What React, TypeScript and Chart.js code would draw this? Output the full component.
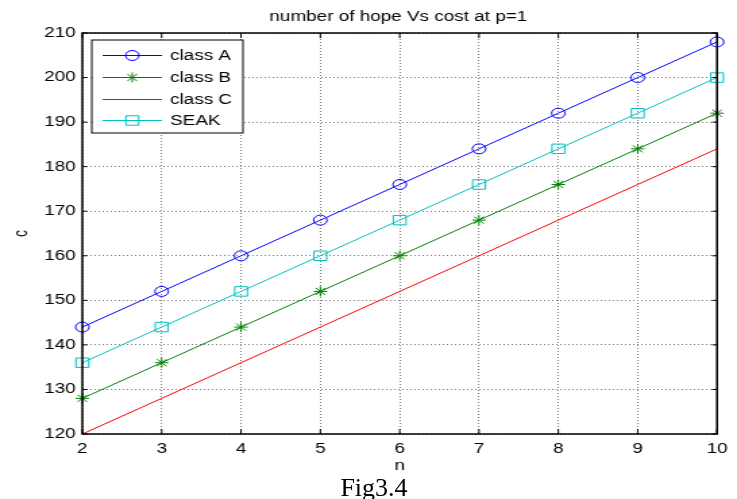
import React, { useEffect, useRef } from 'react';
import { Chart, registerables } from 'chart.js';

Chart.register(...registerables);

// ---- data ----
const nValues = [2, 3, 4, 5, 6, 7, 8, 9, 10];
const classA = [144, 152, 160, 168, 176, 184, 192, 200, 208];
const classB = [128, 136, 144, 152, 160, 168, 176, 184, 192];
const classC = [120, 128, 136, 144, 152, 160, 168, 176, 184];
const seak = [136, 144, 152, 160, 168, 176, 184, 192, 200];
const seriesNames = ['class A', 'class B', 'class C', 'SEAK'];
const chartTitle = 'number of hope Vs cost at p=1';
const xTitle = 'n';
const yTitle = 'c';
const caption = 'Fig3.4';
const xMin = 2;
const xMax = 10;
const yMin = 120;
const yMax = 210;
const yStep = 10;

// ---- presentation ----
const FONT = '"Liberation Sans", Arial, Helvetica, sans-serif';
const CW = 546; // internal canvas width (the figure is stretched horizontally)
const CH = 499;
const SX = 737 / CW;
const COLORS = ['#0000ff', '#008000', '#ff0000', '#00bfbf'];
const STYLES = ['circle', 'star', 'none', 'rect'];
const RADII = [5, 5, 0, 6.7];

function drawMarker(ctx: CanvasRenderingContext2D, style: string, x: number, y: number, r: number, color: string) {
  if (!r || style === 'none') return;
  ctx.save();
  ctx.strokeStyle = color;
  ctx.lineWidth = 1;
  ctx.beginPath();
  if (style === 'circle') {
    ctx.arc(x, y, r, 0, Math.PI * 2);
  } else if (style === 'rect') {
    const s = r * Math.SQRT1_2;
    ctx.rect(x - s, y - s, 2 * s, 2 * s);
  } else if (style === 'star') {
    const d = r * Math.SQRT1_2;
    ctx.moveTo(x - r, y); ctx.lineTo(x + r, y);
    ctx.moveTo(x, y - r); ctx.lineTo(x, y + r);
    ctx.moveTo(x - d, y - d); ctx.lineTo(x + d, y + d);
    ctx.moveTo(x - d, y + d); ctx.lineTo(x + d, y - d);
  }
  ctx.stroke();
  ctx.restore();
}

const framePlugin = {
  id: 'matlabFrame',
  afterDatasetsDraw(chart: any) {
    const { ctx, chartArea: a, scales } = chart;
    ctx.save();
    // inward tick marks
    ctx.strokeStyle = '#000';
    ctx.lineWidth = 1;
    ctx.beginPath();
    for (const t of scales.x.ticks) {
      const px = scales.x.getPixelForValue(t.value);
      ctx.moveTo(px, a.bottom); ctx.lineTo(px, a.bottom - 5);
      ctx.moveTo(px, a.top); ctx.lineTo(px, a.top + 5);
    }
    for (const t of scales.y.ticks) {
      const py = scales.y.getPixelForValue(t.value);
      ctx.moveTo(a.left, py); ctx.lineTo(a.left + 5 / SX, py);
      ctx.moveTo(a.right, py); ctx.lineTo(a.right - 5 / SX, py);
    }
    ctx.stroke();
    // axes box
    ctx.lineWidth = 1.5;
    ctx.strokeRect(a.left, a.top, a.right - a.left, a.bottom - a.top);

    // legend
    const bx = 68, by = 40, bw = 112, bh = 93;
    ctx.fillStyle = '#fff';
    ctx.fillRect(bx, by, bw, bh);
    ctx.lineWidth = 1;
    ctx.strokeStyle = '#000';
    ctx.strokeRect(bx, by, bw, bh);
    const rows = [55, 77, 99, 120];
    seriesNames.forEach((name, i) => {
      const y = rows[i];
      ctx.fillStyle = COLORS[i];
      ctx.fillRect(76, y, 44, 1);
      drawMarker(ctx, STYLES[i], 98, y + 0.5, RADII[i], COLORS[i]);
      ctx.fillStyle = '#000';
      ctx.font = `14px ${FONT}`;
      ctx.textAlign = 'left';
      ctx.textBaseline = 'middle';
      ctx.fillText(name, 126, y + 1.5);
    });
    ctx.restore();
  },
  afterDraw(chart: any) {
    const { ctx, chartArea: a } = chart;
    ctx.save();
    ctx.fillStyle = '#000';
    ctx.font = `14px ${FONT}`;
    ctx.textAlign = 'center';
    ctx.textBaseline = 'alphabetic';
    ctx.fillText(chartTitle, (a.left + a.right) / 2 - 1, 21);
    ctx.restore();
  },
};

export default function App() {
  const canvasRef = useRef<HTMLCanvasElement | null>(null);

  useEffect(() => {
    const canvas = canvasRef.current;
    if (!canvas) return;
    const mk = (vals: number[]) => nValues.map((x, i) => ({ x, y: vals[i] }));
    const series = [classA, classB, classC, seak];
    const chart = new Chart(canvas, {
      type: 'line',
      data: {
        datasets: series.map((vals, i) => ({
          label: seriesNames[i],
          data: mk(vals),
          borderColor: COLORS[i],
          pointBorderColor: COLORS[i],
          pointBackgroundColor: 'rgba(0,0,0,0)',
          pointStyle: STYLES[i] === 'none' ? 'circle' : STYLES[i],
          pointRadius: RADII[i],
          borderWidth: 1,
          pointBorderWidth: 1,
          clip: false as any,
          tension: 0,
        })),
      },
      options: {
        responsive: false,
        animation: false,
        devicePixelRatio: 1,
        layout: { padding: { top: 33, right: 10, bottom: 23, left: 0 } },
        plugins: { legend: { display: false }, title: { display: false }, tooltip: { enabled: false } },
        scales: {
          x: {
            type: 'linear',
            min: xMin,
            max: xMax,
            ticks: { stepSize: 1, color: '#000', padding: 7, font: { family: FONT, size: 14 }, maxRotation: 0 },
            grid: { color: '#7a7a7a', lineWidth: 1, drawTicks: false },
            border: { display: false, dash: [1, 2] },
            title: { display: true, text: xTitle, color: '#000', font: { family: FONT, size: 14 }, padding: { top: 0, bottom: 1 } },
            afterFit: (s: any) => { s.height = 42; },
          },
          y: {
            type: 'linear',
            min: yMin,
            max: yMax,
            ticks: { stepSize: yStep, color: '#000', padding: 5, font: { family: FONT, size: 14 } },
            grid: { color: '#7a7a7a', lineWidth: 1, drawTicks: false },
            border: { display: false, dash: [1, 2] },
            title: { display: true, text: yTitle, color: '#000', font: { family: FONT, size: 14 }, padding: { top: 8, bottom: 0 } },
            afterFit: (s: any) => { s.width = 61; },
          },
        },
      },
      plugins: [framePlugin as any],
    });
    return () => chart.destroy();
  }, []);

  return (
    <div style={{ position: 'absolute', left: 0, top: 0, width: 737, height: 499, overflow: 'hidden', background: '#fff' }}>
      <canvas ref={canvasRef} width={CW} height={CH} style={{ width: 737, height: 499, display: 'block' }} />
      <div
        style={{
          position: 'absolute',
          left: 274,
          top: 475,
          width: 200,
          textAlign: 'center',
          fontFamily: '"Liberation Serif", "Times New Roman", serif',
          fontSize: 26,
          lineHeight: '26px',
          color: '#000',
          whiteSpace: 'nowrap',
        }}
      >
        {caption}
      </div>
    </div>
  );
}
